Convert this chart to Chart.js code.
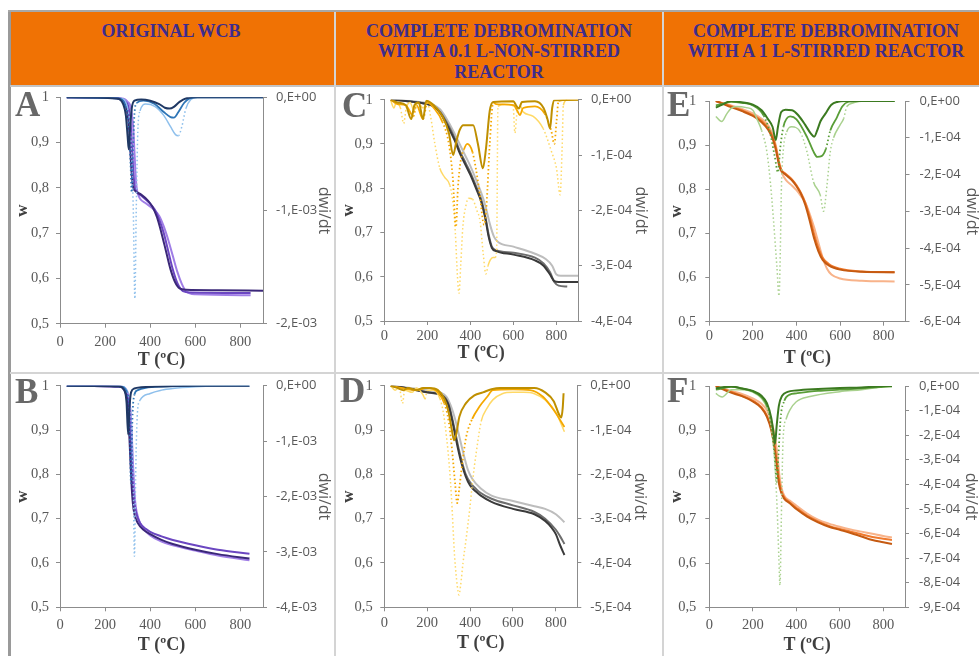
<!DOCTYPE html>
<html><head><meta charset="utf-8">
<script src="https://cdn.jsdelivr.net/npm/chart.js@4.4.0/dist/chart.umd.min.js"></script>
<style>
html,body{margin:0;padding:0;background:#fff;width:979px;height:656px;overflow:hidden;position:relative;}
.abs{position:absolute;}
.htxt{position:absolute;width:420px;text-align:center;font-family:'Liberation Serif','Times New Roman',serif;font-weight:bold;font-size:18px;line-height:20.7px;color:#3D2C8D;white-space:nowrap;}
canvas{position:absolute;}
</style></head><body>
<div class="abs" style="left:10px;top:12px;width:980px;height:74px;background:#F07204"></div>
<div class="abs" style="left:8px;top:10px;width:3px;height:646px;background:#9a9a9a"></div>
<div class="abs" style="left:8px;top:10px;width:971px;height:2px;background:#a8a8a8"></div>
<div class="abs" style="left:10px;top:85px;width:969px;height:2px;background:#c4c4c4"></div>
<div class="abs" style="left:334px;top:12px;width:2px;height:644px;background:#d4d4d4"></div>
<div class="abs" style="left:662px;top:12px;width:2px;height:644px;background:#d4d4d4"></div>
<div class="abs" style="left:10px;top:372px;width:969px;height:2px;background:#d4d4d4"></div>
<div class="htxt" style="left:-39px;top:20.7px">ORIGINAL WCB</div>
<div class="htxt" style="left:289px;top:20.7px">COMPLETE DEBROMINATION<br>WITH A 0.1 L-NON-STIRRED<br>REACTOR</div>
<div class="htxt" style="left:616px;top:20.7px">COMPLETE DEBROMINATION<br>WITH A 1 L-STIRRED REACTOR</div>
<script>
// ---------- tick labels ----------
const xTickValues = [0, 200, 400, 600, 800];
const xTickLabels = ['0','200','400','600','800'];
const wTickLabels = ['0,5','0,6','0,7','0,8','0,9','1'];
const A_dTicks = ['0,E+00','-1,E-03','-2,E-03'];
const B_dTicks = ['0,E+00','-1,E-03','-2,E-03','-3,E-03','-4,E-03'];
const C_dTicks = ['0,E+00','-1,E-04','-2,E-04','-3,E-04','-4,E-04'];
const D_dTicks = ['0,E+00','-1,E-04','-2,E-04','-3,E-04','-4,E-04','-5,E-04'];
const E_dTicks = ['0,E+00','-1,E-04','-2,E-04','-3,E-04','-4,E-04','-5,E-04','-6,E-04'];
const F_dTicks = ['0,E+00','-1,E-04','-2,E-04','-3,E-04','-4,E-04','-5,E-04','-6,E-04','-7,E-04','-8,E-04','-9,E-04'];

// ---------- panel A : original WCB, [T (ºC), value] ----------
const A_w1 = [[30,1],[250,0.998],[280,0.99],[295,0.975],[305,0.94],[312,0.88],[318,0.83],[325,0.80],[332,0.794],[360,0.785],[390,0.772],[410,0.758],[430,0.735],[450,0.70],[470,0.66],[490,0.62],[510,0.592],[530,0.578],[560,0.575],[700,0.574],[900,0.573]];
const A_w2 = [[30,1],[260,0.998],[290,0.99],[305,0.975],[315,0.93],[320,0.88],[326,0.83],[332,0.80],[338,0.792],[360,0.783],[390,0.77],[420,0.752],[440,0.73],[460,0.70],[480,0.66],[500,0.62],[520,0.59],[545,0.572],[580,0.569],[845,0.568]];
const A_w3 = [[30,1],[270,0.998],[300,0.99],[315,0.975],[325,0.93],[330,0.88],[335,0.83],[340,0.80],[346,0.786],[355,0.776],[380,0.766],[410,0.755],[440,0.738],[460,0.715],[480,0.685],[500,0.65],[520,0.615],[540,0.588],[560,0.571],[600,0.565],[845,0.563]];
const A_d1 = [[30,0],[250,-0.1e-4],[280,-0.6e-4],[292,-1.6e-4],[300,-3.5e-4],[305,-4.6e-4],[310,-3.0e-4],[318,-1.0e-4],[330,-0.3e-4],[360,-0.2e-4],[400,-0.3e-4],[440,-0.6e-4],[465,-0.92e-4],[485,-1.0e-4],[505,-0.85e-4],[530,-0.4e-4],[560,-0.08e-4],[600,0],[900,0]];
const A_d2 = [[30,0],[260,-0.1e-4],[290,-0.8e-4],[305,-2.5e-4],[313,-6e-4],[318,-8.4e-4],[323,-5e-4],[330,-1.5e-4],[340,-0.5e-4],[370,-0.3e-4],[420,-0.6e-4],[460,-1.3e-4],[490,-1.75e-4],[505,-1.8e-4],[525,-1.3e-4],[550,-0.5e-4],[575,-0.1e-4],[610,0],[900,0]];
const A_d3 = [[30,0],[270,-0.1e-4],[300,-1.0e-4],[315,-4e-4],[325,-10e-4],[332,-17.8e-4],[338,-10e-4],[345,-3e-4],[355,-1.2e-4],[380,-0.6e-4],[420,-0.8e-4],[460,-1.6e-4],[490,-2.6e-4],[512,-3.3e-4],[525,-3.4e-4],[540,-2.6e-4],[558,-1.0e-4],[580,-0.2e-4],[610,0],[850,0]];

// ---------- panel B ----------
const B_w1 = [[30,1],[260,0.998],[285,0.99],[295,0.975],[302,0.94],[308,0.88],[313,0.82],[318,0.77],[323,0.735],[330,0.71],[345,0.69],[370,0.675],[400,0.665],[450,0.652],[500,0.643],[600,0.63],[700,0.62],[840,0.61]];
const B_w2 = [[30,1],[265,0.998],[290,0.99],[300,0.975],[308,0.94],[314,0.88],[319,0.82],[324,0.77],[330,0.735],[338,0.712],[355,0.69],[380,0.677],[400,0.67],[450,0.66],[500,0.652],[600,0.64],[700,0.63],[840,0.621]];
const B_w3 = [[30,1],[270,0.998],[295,0.99],[305,0.975],[313,0.94],[319,0.88],[324,0.82],[329,0.77],[334,0.735],[340,0.715],[355,0.69],[380,0.672],[400,0.662],[450,0.648],[500,0.64],[600,0.628],[700,0.617],[840,0.606]];
const B_d1 = [[30,0],[260,-0.1e-4],[285,-0.8e-4],[295,-3e-4],[302,-8.8e-4],[308,-4e-4],[315,-1.2e-4],[330,-0.5e-4],[360,-0.3e-4],[420,-0.15e-4],[500,-0.05e-4],[600,0],[840,0]];
const B_d2 = [[30,0],[265,-0.1e-4],[295,-1e-4],[307,-5e-4],[315,-17.6e-4],[321,-6e-4],[330,-1.6e-4],[345,-0.8e-4],[380,-0.4e-4],[450,-0.15e-4],[550,-0.05e-4],[650,0],[840,0]];
const B_d3 = [[30,0],[270,-0.1e-4],[300,-1.2e-4],[315,-6e-4],[325,-18e-4],[330,-30.8e-4],[336,-15e-4],[343,-5e-4],[355,-2.6e-4],[400,-1.4e-4],[450,-0.8e-4],[500,-0.5e-4],[600,-0.2e-4],[700,-0.05e-4],[840,0]];

// ---------- panel C ----------
const C_w1 = [[30,1],[100,0.997],[200,0.99],[230,0.985],[260,0.97],[300,0.935],[330,0.905],[350,0.88],[380,0.85],[400,0.83],[430,0.795],[450,0.77],[470,0.73],[485,0.69],[500,0.665],[520,0.658],[600,0.65],[700,0.637],[740,0.625],[770,0.605],[790,0.59],[810,0.588],[900,0.588]];
const C_w2 = [[30,1],[100,0.997],[200,0.99],[230,0.985],[260,0.972],[300,0.94],[330,0.91],[350,0.885],[380,0.855],[400,0.835],[430,0.8],[450,0.775],[470,0.735],[485,0.695],[500,0.668],[520,0.66],[600,0.654],[700,0.643],[740,0.63],[770,0.61],[790,0.588],[810,0.58],[850,0.578]];
const C_w3 = [[30,1],[100,0.998],[200,0.992],[230,0.988],[260,0.978],[300,0.948],[330,0.92],[350,0.9],[380,0.87],[400,0.85],[430,0.815],[450,0.79],[470,0.76],[490,0.72],[510,0.69],[530,0.678],[600,0.668],[700,0.652],[750,0.64],[780,0.625],[800,0.605],[820,0.602],[900,0.602]];
const C_d1 = [[30,0],[60,-0.05e-4],[100,-0.1e-4],[125,-0.35e-4],[140,-0.1e-4],[160,-0.05e-4],[180,-0.35e-4],[195,-0.02e-4],[230,-0.1e-4],[270,-0.3e-4],[300,-0.6e-4],[320,-1.0e-4],[335,-0.75e-4],[350,-0.55e-4],[367,-0.46e-4],[413,-0.46e-4],[435,-0.8e-4],[458,-1.24e-4],[472,-0.9e-4],[490,-0.2e-4],[506,-0.04e-4],[600,-0.03e-4],[612,-0.1e-4],[625,-0.16e-4],[640,-0.04e-4],[700,-0.03e-4],[740,-0.15e-4],[758,-0.35e-4],[770,-0.52e-4],[780,-0.15e-4],[790,-0.01e-4],[900,0]];
const C_d2 = [[30,0],[60,-0.08e-4],[100,-0.1e-4],[135,-0.3e-4],[150,-0.1e-4],[180,-0.35e-4],[200,-0.05e-4],[230,-0.15e-4],[270,-0.4e-4],[300,-0.8e-4],[318,-1.4e-4],[333,-2.3e-4],[342,-1.6e-4],[355,-1.1e-4],[370,-0.9e-4],[385,-0.8e-4],[410,-0.95e-4],[440,-1.6e-4],[464,-2.26e-4],[475,-1.9e-4],[490,-0.8e-4],[506,-0.05e-4],[520,-0.08e-4],[600,-0.1e-4],[618,-0.2e-4],[630,-0.28e-4],[645,-0.15e-4],[700,-0.12e-4],[745,-0.25e-4],[775,-0.55e-4],[790,-0.8e-4],[800,-0.4e-4],[810,-0.02e-4],[900,0]];
const C_d3 = [[30,-0.02e-4],[45,-0.15e-4],[55,-0.05e-4],[75,-0.15e-4],[90,-0.43e-4],[102,-0.15e-4],[120,-0.05e-4],[138,-0.2e-4],[155,-0.05e-4],[180,-0.15e-4],[200,-0.05e-4],[215,-0.3e-4],[235,-0.8e-4],[258,-1.24e-4],[280,-1.4e-4],[305,-1.55e-4],[320,-1.9e-4],[330,-2.4e-4],[340,-3.2e-4],[347,-3.5e-4],[355,-3.0e-4],[365,-2.3e-4],[380,-1.9e-4],[392,-1.78e-4],[410,-1.8e-4],[430,-2.0e-4],[445,-2.2e-4],[460,-2.8e-4],[472,-3.15e-4],[482,-3.0e-4],[492,-2.9e-4],[505,-2.85e-4],[515,-2.85e-4],[522,-2.7e-4],[528,-0.12e-4],[560,-0.08e-4],[598,-0.1e-4],[607,-0.6e-4],[616,-0.25e-4],[630,-0.1e-4],[645,-0.22e-4],[692,-0.3e-4],[738,-0.52e-4],[777,-0.94e-4],[800,-1.24e-4],[817,-1.72e-4],[826,-0.9e-4],[832,-0.1e-4],[850,0]];

// ---------- panel D ----------
const D_w1 = [[30,1],[100,0.995],[200,0.985],[260,0.98],[285,0.97],[300,0.955],[315,0.925],[330,0.89],[345,0.855],[360,0.825],[380,0.795],[400,0.775],[430,0.76],[450,0.752],[500,0.738],[600,0.722],[700,0.71],[750,0.695],[780,0.68],[800,0.665],[820,0.64],[840,0.618]];
const D_w2 = [[30,1],[100,0.995],[200,0.985],[260,0.98],[285,0.972],[300,0.958],[315,0.93],[330,0.897],[345,0.862],[360,0.832],[380,0.8],[400,0.782],[430,0.766],[450,0.758],[500,0.745],[600,0.73],[700,0.715],[750,0.7],[800,0.675],[820,0.66],[840,0.643]];
const D_w3 = [[30,1],[100,0.996],[200,0.99],[260,0.985],[290,0.975],[310,0.955],[330,0.925],[350,0.885],[370,0.845],[390,0.81],[410,0.79],[450,0.768],[500,0.752],[600,0.74],[700,0.728],[750,0.722],[800,0.71],[840,0.692]];
const D_d1 = [[30,0],[60,-0.05e-4],[90,-0.1e-4],[110,-0.05e-4],[150,-0.1e-4],[180,-0.05e-4],[210,-0.05e-4],[250,-0.1e-4],[280,-0.3e-4],[300,-0.6e-4],[315,-1.0e-4],[325,-1.23e-4],[335,-1.1e-4],[350,-0.7e-4],[380,-0.4e-4],[420,-0.22e-4],[460,-0.15e-4],[500,-0.08e-4],[540,-0.05e-4],[700,-0.05e-4],[750,-0.15e-4],[790,-0.35e-4],[815,-0.65e-4],[825,-0.72e-4],[832,-0.5e-4],[836,-0.17e-4]];
const D_d2 = [[30,0],[80,-0.05e-4],[150,-0.1e-4],[200,-0.05e-4],[250,-0.15e-4],[280,-0.4e-4],[300,-0.8e-4],[315,-1.4e-4],[330,-2.2e-4],[340,-2.65e-4],[350,-2.3e-4],[365,-1.7e-4],[382,-1.15e-4],[410,-0.75e-4],[444,-0.47e-4],[480,-0.25e-4],[506,-0.1e-4],[600,-0.08e-4],[680,-0.1e-4],[740,-0.25e-4],[790,-0.55e-4],[840,-0.93e-4]];
const D_d3 = [[30,0],[50,-0.1e-4],[70,-0.05e-4],[85,-0.4e-4],[95,-0.1e-4],[130,-0.15e-4],[150,-0.05e-4],[180,-0.2e-4],[190,-0.3e-4],[200,-0.1e-4],[230,-0.1e-4],[260,-0.3e-4],[275,-0.6e-4],[290,-1.15e-4],[303,-1.8e-4],[313,-2.5e-4],[328,-3.86e-4],[340,-4.5e-4],[348,-4.72e-4],[356,-4.5e-4],[367,-4.0e-4],[383,-3.4e-4],[398,-2.8e-4],[413,-2.1e-4],[429,-1.5e-4],[452,-0.8e-4],[480,-0.5e-4],[506,-0.32e-4],[550,-0.18e-4],[600,-0.15e-4],[650,-0.15e-4],[700,-0.18e-4],[750,-0.32e-4],[800,-0.6e-4],[840,-1.04e-4]];

// ---------- panel E ----------
const E_w1 = [[30,1],[60,0.994],[100,0.986],[150,0.977],[200,0.966],[240,0.952],[270,0.935],[290,0.915],[305,0.89],[320,0.855],[330,0.842],[350,0.833],[380,0.82],[400,0.807],[420,0.79],[440,0.765],[460,0.73],[480,0.69],[500,0.66],[520,0.64],[550,0.627],[600,0.618],[700,0.613],[850,0.612]];
const E_w2 = [[30,1],[60,0.995],[100,0.988],[150,0.979],[200,0.968],[240,0.955],[270,0.938],[290,0.92],[305,0.895],[320,0.86],[330,0.845],[350,0.835],[380,0.822],[400,0.809],[420,0.792],[440,0.77],[460,0.738],[480,0.70],[500,0.668],[520,0.645],[550,0.63],[600,0.62],[700,0.614],[850,0.612]];
const E_w3 = [[30,1],[60,0.995],[100,0.99],[150,0.982],[200,0.972],[240,0.96],[270,0.945],[290,0.925],[305,0.9],[320,0.862],[335,0.835],[350,0.822],[380,0.808],[400,0.798],[420,0.785],[440,0.77],[460,0.745],[480,0.715],[500,0.68],[520,0.645],[540,0.62],[560,0.607],[600,0.598],[700,0.593],[850,0.591]];
const E_d1 = [[30,-0.18e-4],[60,-0.1e-4],[100,0],[130,-0.02e-4],[200,-0.1e-4],[240,-0.25e-4],[270,-0.5e-4],[290,-0.7e-4],[305,-1.06e-4],[315,-0.7e-4],[330,-0.3e-4],[350,-0.24e-4],[380,-0.25e-4],[410,-0.4e-4],[440,-0.65e-4],[465,-0.88e-4],[481,-0.97e-4],[495,-0.8e-4],[510,-0.55e-4],[532,-0.35e-4],[560,-0.1e-4],[590,-0.02e-4],[620,0],[850,0]];
const E_d2 = [[30,-0.12e-4],[60,-0.08e-4],[100,-0.02e-4],[150,-0.05e-4],[200,-0.12e-4],[250,-0.4e-4],[280,-0.9e-4],[300,-1.5e-4],[315,-1.94e-4],[325,-1.3e-4],[340,-0.7e-4],[371,-0.42e-4],[400,-0.5e-4],[450,-1.0e-4],[480,-1.4e-4],[495,-1.52e-4],[515,-1.5e-4],[535,-1.3e-4],[555,-0.8e-4],[585,-0.45e-4],[610,-0.15e-4],[640,-0.02e-4],[700,0],[850,0]];
const E_d3 = [[30,-0.42e-4],[57,-0.56e-4],[80,-0.35e-4],[100,-0.2e-4],[126,-0.15e-4],[170,-0.18e-4],[200,-0.25e-4],[218,-0.48e-4],[240,-0.8e-4],[264,-1.38e-4],[280,-2.2e-4],[294,-3.2e-4],[310,-4.5e-4],[320,-5.3e-4],[326,-4.0e-4],[331,-2.3e-4],[340,-1.3e-4],[355,-0.84e-4],[378,-0.7e-4],[417,-0.84e-4],[448,-1.38e-4],[478,-2.2e-4],[509,-2.56e-4],[524,-3.0e-4],[540,-2.28e-4],[555,-1.38e-4],[570,-1.0e-4],[600,-0.65e-4],[616,-0.48e-4],[631,-0.15e-4],[662,-0.05e-4],[700,0],[850,0]];

// ---------- panel F ----------
const F_w1 = [[30,1],[60,0.993],[100,0.985],[150,0.977],[200,0.965],[240,0.95],[265,0.93],[285,0.9],[300,0.86],[310,0.82],[320,0.78],[330,0.76],[345,0.745],[370,0.735],[400,0.722],[450,0.705],[500,0.692],[550,0.682],[600,0.675],[650,0.668],[700,0.66],[750,0.652],[800,0.647],[840,0.643]];
const F_w2 = [[30,1],[60,0.994],[100,0.987],[150,0.978],[200,0.967],[240,0.952],[265,0.933],[285,0.905],[300,0.868],[310,0.83],[320,0.79],[330,0.765],[345,0.748],[370,0.737],[400,0.725],[450,0.707],[500,0.694],[550,0.684],[600,0.677],[650,0.671],[700,0.665],[750,0.659],[800,0.655],[840,0.652]];
const F_w3 = [[30,1],[60,0.995],[100,0.989],[150,0.982],[200,0.972],[240,0.96],[265,0.945],[285,0.92],[300,0.89],[312,0.85],[322,0.8],[332,0.77],[345,0.752],[370,0.741],[400,0.73],[450,0.712],[500,0.698],[550,0.689],[600,0.682],[650,0.676],[700,0.671],[750,0.666],[800,0.661],[840,0.658]];
const F_d1 = [[30,-0.1e-4],[60,-0.05e-4],[100,-0.02e-4],[150,-0.1e-4],[200,-0.2e-4],[240,-0.4e-4],[265,-0.7e-4],[285,-1.3e-4],[297,-2.0e-4],[302,-2.36e-4],[310,-1.6e-4],[320,-0.8e-4],[335,-0.4e-4],[360,-0.24e-4],[400,-0.18e-4],[500,-0.12e-4],[600,-0.08e-4],[700,-0.06e-4],[750,-0.03e-4],[800,0],[840,0]];
const F_d2 = [[30,-0.15e-4],[60,-0.1e-4],[100,-0.03e-4],[150,-0.1e-4],[200,-0.22e-4],[240,-0.45e-4],[265,-0.8e-4],[285,-1.6e-4],[300,-2.8e-4],[310,-3.9e-4],[318,-2.8e-4],[328,-1.3e-4],[345,-0.6e-4],[370,-0.35e-4],[400,-0.3e-4],[500,-0.2e-4],[600,-0.15e-4],[700,-0.1e-4],[760,-0.06e-4],[800,-0.03e-4],[840,-0.01e-4]];
const F_d3 = [[30,-0.3e-4],[45,-0.4e-4],[60,-0.45e-4],[75,-0.35e-4],[100,-0.15e-4],[150,-0.15e-4],[200,-0.25e-4],[240,-0.5e-4],[265,-0.9e-4],[285,-1.7e-4],[300,-3.0e-4],[312,-5.0e-4],[320,-7.0e-4],[325,-8.1e-4],[331,-5.5e-4],[336,-3.2e-4],[340,-2.05e-4],[355,-1.3e-4],[371,-0.97e-4],[400,-0.64e-4],[463,-0.43e-4],[600,-0.23e-4],[700,-0.15e-4],[785,-0.05e-4],[840,-0.02e-4]];

// ---------- styles / layout ----------
const PURPLE = ['#3B2879','#6B46C1','#A07EE6'];
const BLUE = ['#1F3864','#2E75B6','#8FC0EC'];
const GRAY = ['#3A3A3A','#6E6E6E','#BDBDBD'];
const GOLD = ['#BF8F00','#F5A800','#FFD966'];
const ORANGE = ['#C55A11','#F07A2E','#F8B38A'];
const GREEN = ['#3B7A20','#5A9E38','#A9D18E'];

const PANELS = [
  {letter:'A', x:11, y:87, w:323, h:285, leftW:49, rightW:71, top:10.3, bottomH:48.3, dMin:-2e-3, dStep:1e-3, dLabels:A_dTicks,
   xTickPad:5.3, xTitlePad:0.5, yTickPad:7, y2TickPad:9, wTitlePad:1.3, dTitlePad:0.4, lx:4, ly:29,
   tg:[A_w1,A_w2,A_w3], tgC:PURPLE, dtg:[A_d1,A_d2,A_d3], dtgC:BLUE},
  {letter:'B', x:11, y:374, w:323, h:282, leftW:49, rightW:71, top:11.7, bottomH:48.7, dMin:-4e-3, dStep:1e-3, dLabels:B_dTicks,
   xTickPad:5, xTitlePad:0.2, yTickPad:7, y2TickPad:9, wTitlePad:1.3, dTitlePad:0.4, lx:4, ly:29,
   tg:[B_w1,B_w2,B_w3], tgC:PURPLE, dtg:[B_d1,B_d2,B_d3], dtgC:BLUE},
  {letter:'C', x:337, y:87, w:325, h:285, leftW:47.3, rightW:84, top:12.7, bottomH:51, dMin:-4e-4, dStep:1e-4, dLabels:C_dTicks,
   xTickPad:2, xTitlePad:7.9, yTickPad:7.6, y2TickPad:9, wTitlePad:1.8, dTitlePad:11.4, lx:5, ly:30,
   tg:[C_w1,C_w2,C_w3], tgC:GRAY, dtg:[C_d1,C_d2,C_d3], dtgC:GOLD},
  {letter:'D', x:337, y:374, w:325, h:282, leftW:47.3, rightW:84.7, top:11.7, bottomH:48.7, dMin:-5e-4, dStep:1e-4, dLabels:D_dTicks,
   xTickPad:3.3, xTitlePad:1.9, yTickPad:7.6, y2TickPad:9, wTitlePad:1.8, dTitlePad:12.4, lx:3, ly:28,
   tg:[D_w1,D_w2,D_w3], tgC:GRAY, dtg:[D_d1,D_d2,D_d3], dtgC:GOLD},
  {letter:'E', x:665, y:87, w:330, h:285, leftW:44.3, rightW:89.5, top:14, bottomH:50.3, dMin:-6e-4, dStep:1e-4, dLabels:E_dTicks,
   xTickPad:1.3, xTitlePad:2.9, yTickPad:9, y2TickPad:10, wTitlePad:1.3, dTitlePad:13.4, lx:2, ly:29,
   tg:[E_w1,E_w2,E_w3], tgC:ORANGE, dtg:[E_d1,E_d2,E_d3], dtgC:GREEN},
  {letter:'F', x:665, y:374, w:330, h:282, leftW:44.3, rightW:90, top:12, bottomH:48.7, dMin:-9e-4, dStep:1e-4, dLabels:F_dTicks,
   xTickPad:5, xTitlePad:0.2, yTickPad:9, y2TickPad:10, wTitlePad:1, dTitlePad:14.4, lx:2, ly:28,
   tg:[F_w1,F_w2,F_w3], tgC:ORANGE, dtg:[F_d1,F_d2,F_d3], dtgC:GREEN}
];

const AXIS = '#8c8c8c';
const SERIF = "'Liberation Serif','Times New Roman',serif";
const SANS = "'Open Sans','DejaVu Sans',sans-serif";

const letterPlugin = {
  id: 'panelLetter',
  afterDraw(chart, args, opts) {
    const c = chart.ctx;
    c.save();
    c.font = 'bold 35px ' + SERIF;
    c.fillStyle = '#686868';
    c.textAlign = 'left';
    c.textBaseline = 'alphabetic';
    c.fillText(opts.text, opts.x, opts.y);
    c.restore();
  }
};

function steepDash(ctx) {
  const dx = Math.abs(ctx.p1.x - ctx.p0.x), dy = Math.abs(ctx.p1.y - ctx.p0.y);
  return dy > 2.5 * dx && dy > 6 ? [1.5, 2.5] : undefined;
}

function toXY(arr) { return arr.map(p => ({x: p[0], y: p[1]})); }
function noPad(s) { s.paddingTop = 0; s.paddingBottom = 0; s.paddingLeft = 0; s.paddingRight = 0; }

PANELS.forEach(p => {
  const cv = document.createElement('canvas');
  cv.width = p.w; cv.height = p.h;
  cv.style.left = p.x + 'px'; cv.style.top = p.y + 'px';
  cv.style.width = p.w + 'px'; cv.style.height = p.h + 'px';
  document.body.appendChild(cv);

  const datasets = [];
  const widths = [2, 1.8, 1.5];
  p.dtg.forEach((arr, i) => datasets.push({
    data: toXY(arr), yAxisID: 'y2', borderColor: p.dtgC[i], borderWidth: widths[i],
    pointRadius: 0, fill: false, cubicInterpolationMode: 'monotone',
    segment: i > 0 ? {borderDash: steepDash} : undefined
  }));
  p.tg.forEach((arr, i) => datasets.push({
    data: toXY(arr), yAxisID: 'y', borderColor: p.tgC[i], borderWidth: 2,
    pointRadius: 0, fill: false, cubicInterpolationMode: 'monotone'
  }));

  new Chart(cv, {
    type: 'line',
    data: {datasets},
    plugins: [letterPlugin],
    options: {
      responsive: false, animation: false, devicePixelRatio: 1,
      layout: {padding: {top: p.top, left: 0, right: 0, bottom: 0}},
      plugins: {legend: {display: false}, tooltip: {enabled: false},
                panelLetter: {text: p.letter, x: p.lx, y: p.ly}},
      scales: {
        x: {
          type: 'linear', position: 'bottom', min: 0, max: 900,
          afterBuildTicks: s => { s.ticks = xTickValues.map(v => ({value: v})); },
          ticks: {autoSkip: false, maxRotation: 0, padding: p.xTickPad, color: '#595959',
                  font: {family: SERIF, size: 14.5},
                  callback: v => xTickLabels[xTickValues.indexOf(v)]},
          grid: {display: true, drawOnChartArea: false, drawTicks: true, tickLength: 4, color: AXIS},
          border: {display: true, color: AXIS, width: 1},
          title: {display: true, text: 'T (ºC)', color: '#3f3f3f', padding: {top: 0, bottom: p.xTitlePad},
                  font: {family: SERIF, size: 18, weight: 'bold'}},
          afterFit: s => { s.height = p.bottomH; noPad(s); }
        },
        y: {
          type: 'linear', position: 'left', min: 0.5, max: 1,
          ticks: {stepSize: 0.1, autoSkip: false, padding: p.yTickPad, color: '#595959',
                  font: {family: SERIF, size: 14.5},
                  callback: v => wTickLabels[Math.round((v - 0.5) * 10)]},
          grid: {display: true, drawOnChartArea: false, drawTicks: true, tickLength: 4, color: AXIS},
          border: {display: true, color: AXIS, width: 1},
          title: {display: true, text: 'w', color: '#3f3f3f', padding: {top: p.wTitlePad, bottom: 0},
                  font: {family: SERIF, size: 17, weight: 'bold'}},
          afterFit: s => { s.width = p.leftW; noPad(s); }
        },
        y2: {
          type: 'linear', position: 'right', min: p.dMin, max: 0,
          ticks: {stepSize: p.dStep, autoSkip: false, padding: p.y2TickPad, color: '#595959',
                  font: {family: SANS, size: 13},
                  callback: v => p.dLabels[Math.round(-v / p.dStep)]},
          grid: {display: true, drawOnChartArea: false, drawTicks: true, tickLength: 4, color: AXIS},
          border: {display: true, color: AXIS, width: 1},
          title: {display: true, text: 'dwi/dt', color: '#595959', padding: {top: p.dTitlePad, bottom: 0},
                  font: {family: SANS, size: 16}},
          afterFit: s => { s.width = p.rightW; noPad(s); }
        }
      }
    }
  });
});
</script>
</body></html>
